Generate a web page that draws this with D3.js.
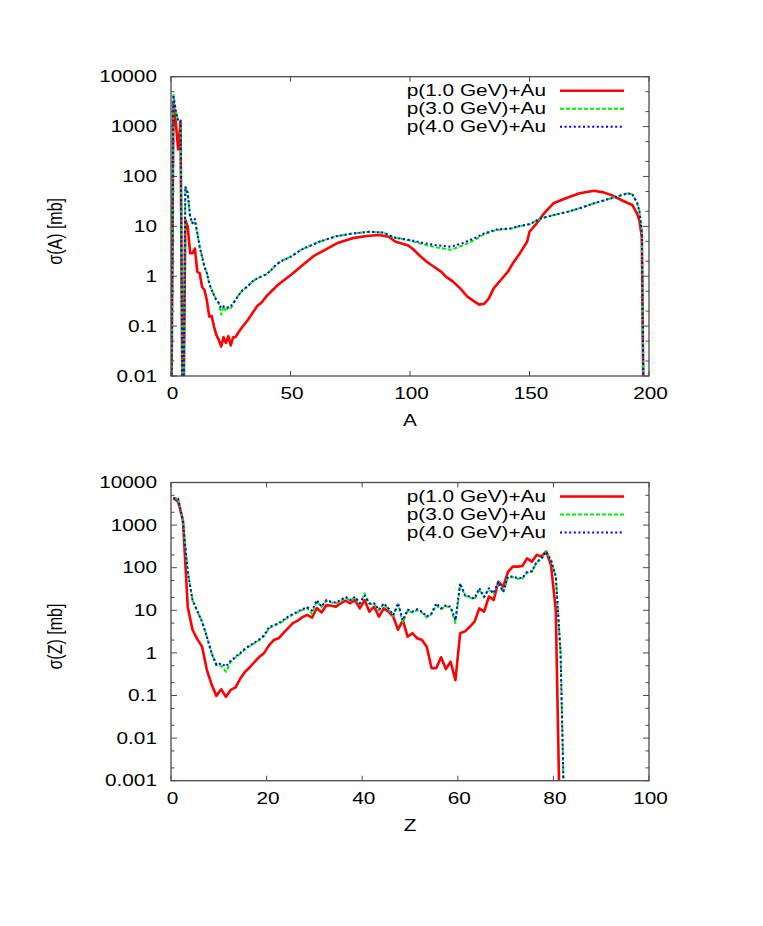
<!DOCTYPE html>
<html lang="en">
<head>
<meta charset="UTF-8">
<title>sigma(A), sigma(Z) for p+Au</title>
<script src="https://cdnjs.cloudflare.com/ajax/libs/d3/7.8.5/d3.min.js"></script>
<style>
  body { margin: 0; background: #fff; }
  svg { display: block; font-family: 'Liberation Sans', Arial, sans-serif; }
</style>
</head>
<body>
<div id="chart"></div>
<script>
// ---- data (tiny values stand for zero cross sections) ----
const seriesNames = ["p(1.0 GeV)+Au", "p(3.0 GeV)+Au", "p(4.0 GeV)+Au"];

// top panel: mass distribution sigma(A)
const topRedA = [0,1,2,3,4,5,6,7,8,9,
  10,11,12,13,14,15,16,17,18,19,
  20,21,22,23,24,25,26,27,28,29,
  30,32,34,36,38,40,42,44,46,50,
  55,60,65,70,76,82,87,91,94,99,
  101,104,107,110,113,115,118,121,124,127,
  129,131,133,135,138,141,143,146,149,150,
  153,156,160,166,171,177,181,185,189,193,
  195,196,197,198];
const topRed = [1e-4,3000,1200,350,1300,1e-4,13.4,9.8,2.9,2.9,
  3.6,1.23,1.15,0.61,0.53,0.33,0.155,0.16,0.098,0.066,
  0.053,0.039,0.06,0.046,0.063,0.041,0.06,0.06,0.072,0.085,
  0.098,0.13,0.18,0.25,0.3,0.4,0.5,0.62,0.75,1.05,
  1.66,2.6,3.5,4.7,5.8,6.4,6.7,6.2,4.9,4.2,
  3.6,2.6,1.95,1.55,1.24,0.98,0.78,0.57,0.39,0.31,
  0.27,0.28,0.36,0.57,0.84,1.24,1.8,2.9,4.9,7.8,
  11.5,18,29,38,46,51.6,48,41,32.6,26.8,
  18,13,6,1e-4];

const topGbA = [0,1,2,3,4,5,6,7,8,9,
  10,11,12,13,14,15,16,17,18,19,
  20,21,22,23,24,25,26,27,28,29,
  30,32,34,36,38,40,42,44,46,50,
  55,62,69,76,83,89,93,100,106,111,
  117,122,127,131,136,142,147,150,154,160,
  166,171,177,182,187,191,193,195,196,197,
  198];
const topGreen = [1e-4,4300,2100,1300,1300,1e-4,62,47,15.5,11.5,
  12,7.4,3.9,2.45,1.55,1.16,0.72,0.53,0.42,0.33,
  0.29,0.17,0.25,0.2,0.24,0.22,0.29,0.33,0.4,0.46,
  0.53,0.62,0.78,0.9,1.0,1.1,1.35,1.7,2.0,2.45,
  3.5,4.9,6.3,7.2,7.8,7.5,6.0,5.2,4.3,3.8,
  3.4,4.1,5.3,7.0,8.4,9.0,10.3,11,14,16.8,
  19.6,23,29,34,40,46,44,30,20,8,
  1e-4];
const topBlue = [1e-4,4300,2100,1300,1300,1e-4,62,47,15.5,11.5,
  14,7.4,3.9,2.45,1.55,1.16,0.72,0.53,0.42,0.33,
  0.29,0.23,0.25,0.23,0.24,0.25,0.29,0.33,0.4,0.46,
  0.53,0.62,0.78,0.9,1.0,1.1,1.35,1.7,2.0,2.45,
  3.5,4.9,6.3,7.2,7.8,7.5,6.0,5.3,4.6,4.2,
  3.9,4.6,5.8,7.2,8.6,9.1,10.5,11,14,16.8,
  19.6,23,29,34,40,46,44,30,20,8,
  1e-4];

// bottom panel: charge distribution sigma(Z)
const botZ = [0.5,1.5,2.5,3.5,4.5,5.5,6.5,7.5,8.5,9.5,
  10.5,11.5,12.5,13.5,14.5,15.5,16.5,17.5,18.5,19.5,
  20.5,21.5,22.5,23.5,24.5,25.5,26.5,27.5,28.5,29.5,
  30.5,31.5,32.5,33.5,34.5,35.5,36.5,37.5,38.5,39.5,
  40.5,41.5,42.5,43.5,44.5,45.5,46.5,47.5,48.5,49.5,
  50.5,51.5,52.5,53.5,54.5,55.5,56.5,57.5,58.5,59.5,
  60.5,61.5,62.5,63.5,64.5,65.5,66.5,67.5,68.5,69.5,
  70.5,71.5,72.5,73.5,74.5,75.5,76.5,77.5,78.5,79.5,
  80.5,81.5,82.5];
const botRed = [4300,3550,1300,12,3.5,2.1,1.4,0.4,0.18,0.098,
  0.14,0.093,0.135,0.155,0.25,0.36,0.46,0.62,0.81,1.0,
  1.5,2.0,2.2,2.9,3.8,5.0,5.7,6.9,7.8,6.7,
  11.3,8.9,13.2,12.8,12.2,14.6,16.8,14.6,17.4,11.1,
  17.4,9.3,12.2,7.1,11.1,9.3,7.1,3.5,5.9,2.4,
  2.9,2.2,2.0,1.4,0.44,0.44,0.79,0.42,0.62,0.23,
  2.9,3.2,4.1,5.4,11.1,9.3,21,17.4,47,36,
  80,106,106,110,166,138,200,183,240,115,
  10,1e-5,1e-5];
const botGreen = [4300,4200,1200,80,17.4,9.6,5.4,2.4,0.98,0.52,
  0.5,0.36,0.62,0.78,0.95,1.2,1.45,1.7,2.0,2.5,
  3.8,4.3,4.8,5.6,6.8,7.9,9.0,10.2,11.3,8.2,
  16.5,11.8,16.8,15.3,14.6,16.8,20,16.8,20,14,
  25,14,14,9.8,14,10.6,7.3,14,5.2,9.8,
  8.8,10,8.8,6.8,8.1,13,10.6,12.5,11.6,5.0,
  41,22,20,18,31,20,31,24,45,26,
  60,60,55,55,77,80,133,160,240,150,
  62,1.0,1e-5];
const botBlue = [4300,4200,1200,80,17.4,9.6,5.4,2.4,0.98,0.52,
  0.57,0.48,0.66,0.81,1.0,1.27,1.5,1.74,2.1,2.6,
  4.0,4.5,5.0,5.9,7.1,8.2,9.4,10.6,11.8,9.8,
  17.4,12.2,17.4,15.9,15.2,17.4,20.8,17.4,20.8,14.6,
  22,14.6,14.6,10.3,14.6,11.1,7.7,14.6,5.9,10.3,
  9.3,10.6,9.3,7.1,8.5,14.6,11.1,13,12.2,5.9,
  43,23,20.8,19,33,20.8,33,25,47,27,
  62,62,57,57,80,83,138,166,240,150,
  62,1.0,1e-5];

const topXTicks = [0, 50, 100, 150, 200];
const botXTicks = [0, 20, 40, 60, 80, 100];
const topYTicks = [0.01, 0.1, 1, 10, 100, 1000, 10000];
const botYTicks = [0.001, 0.01, 0.1, 1, 10, 100, 1000, 10000];

// ---- drawing ----
const W = 763, H = 926;
const SX = 1.3;          // the original picture is stretched horizontally
const FS = 16;
const frameColor = "#4a4a4a";
const styles = [
  { color: "#ff0000", width: 2.6, dash: null },
  { color: "#00ee00", width: 2.0, dash: "4,2" },
  { color: "#0000ff", width: 2.0, dash: "2,2.6" }
];

const svg = d3.select("#chart").append("svg")
  .attr("width", W).attr("height", H);
svg.append("rect").attr("width", W).attr("height", H).attr("fill", "#fff");

function stext(g, x, y, str, anchor) {
  return g.append("text")
    .attr("transform", `translate(${x},${y}) scale(${SX},1)`)
    .attr("text-anchor", anchor)
    .attr("font-size", FS)
    .attr("fill", "#000")
    .text(str);
}

function drawPanel(p) {
  const g = svg.append("g");
  const x = d3.scaleLinear().domain(p.xDomain).range([p.left, p.right]);
  const y = d3.scaleLog().domain(p.yDomain).range([p.bottom, p.top]);

  const clipId = "clip" + p.id;
  svg.append("clipPath").attr("id", clipId).append("rect")
    .attr("x", p.left).attr("y", p.top)
    .attr("width", p.right - p.left).attr("height", p.bottom - p.top);

  // ticks (inside, mirrored)
  const tickG = g.append("g").attr("stroke", frameColor).attr("stroke-width", 1);
  p.xTicks.forEach(t => {
    const xx = x(t);
    tickG.append("line").attr("x1", xx).attr("x2", xx).attr("y1", p.bottom).attr("y2", p.bottom - 5);
    tickG.append("line").attr("x1", xx).attr("x2", xx).attr("y1", p.top).attr("y2", p.top + 5);
    stext(g, xx + 1.5, p.bottom + 23, String(t), "middle");
  });
  p.yTicks.forEach(t => {
    const yy = y(t);
    tickG.append("line").attr("x1", p.left).attr("x2", p.left + 6).attr("y1", yy).attr("y2", yy);
    tickG.append("line").attr("x1", p.right).attr("x2", p.right - 6).attr("y1", yy).attr("y2", yy);
    stext(g, p.left - 14, yy + 5.7, String(t), "end");
    [2, 5].forEach(m => {
      const v = t * m;
      if (v < p.yDomain[1]) {
        const ym = y(v);
        tickG.append("line").attr("x1", p.left).attr("x2", p.left + 3.5).attr("y1", ym).attr("y2", ym);
        tickG.append("line").attr("x1", p.right).attr("x2", p.right - 3.5).attr("y1", ym).attr("y2", ym);
      }
    });
  });

  // curves
  const line = d3.line().x(d => x(d[0])).y(d => y(d[1]));
  const curves = g.append("g").attr("clip-path", `url(#${clipId})`);
  p.series.forEach((s, i) => {
    const st = styles[i];
    curves.append("path")
      .datum(s.xs.map((v, k) => [v, s.ys[k]]))
      .attr("d", line)
      .attr("fill", "none")
      .attr("stroke", st.color)
      .attr("stroke-width", st.width)
      .attr("stroke-dasharray", st.dash)
      .attr("stroke-linejoin", "round");
  });

  // frame
  g.append("rect")
    .attr("x", p.left).attr("y", p.top)
    .attr("width", p.right - p.left).attr("height", p.bottom - p.top)
    .attr("fill", "none").attr("stroke", frameColor).attr("stroke-width", 1.3);

  // axis titles
  stext(g, (p.left + p.right) / 2, p.bottom + 50, p.xLabel, "middle");
  g.append("text")
    .attr("transform", `translate(62,${(p.top + p.bottom) / 2 + 5}) scale(${SX},1) rotate(-90)`)
    .attr("text-anchor", "middle")
    .attr("font-size", FS)
    .text(p.yLabel);

  // legend
  seriesNames.forEach((name, i) => {
    const ly = p.top + 14 + i * 18;
    stext(g, 546, ly + 5.5, name, "end");
    const st = styles[i];
    g.append("line")
      .attr("x1", 560).attr("x2", 624).attr("y1", ly).attr("y2", ly)
      .attr("stroke", st.color).attr("stroke-width", st.width)
      .attr("stroke-dasharray", st.dash);
  });
}

drawPanel({
  id: "A", left: 171, right: 649, top: 76.7, bottom: 376,
  xDomain: [0, 200], yDomain: [0.01, 10000],
  xTicks: topXTicks, yTicks: topYTicks,
  xLabel: "A", yLabel: "σ(A) [mb]",
  series: [
    { xs: topRedA, ys: topRed },
    { xs: topGbA, ys: topGreen },
    { xs: topGbA, ys: topBlue }
  ]
});

drawPanel({
  id: "Z", left: 171, right: 649, top: 482.5, bottom: 780.7,
  xDomain: [0, 100], yDomain: [0.001, 10000],
  xTicks: botXTicks, yTicks: botYTicks,
  xLabel: "Z", yLabel: "σ(Z) [mb]",
  series: [
    { xs: botZ, ys: botRed },
    { xs: botZ, ys: botGreen },
    { xs: botZ, ys: botBlue }
  ]
});
</script>
</body>
</html>
